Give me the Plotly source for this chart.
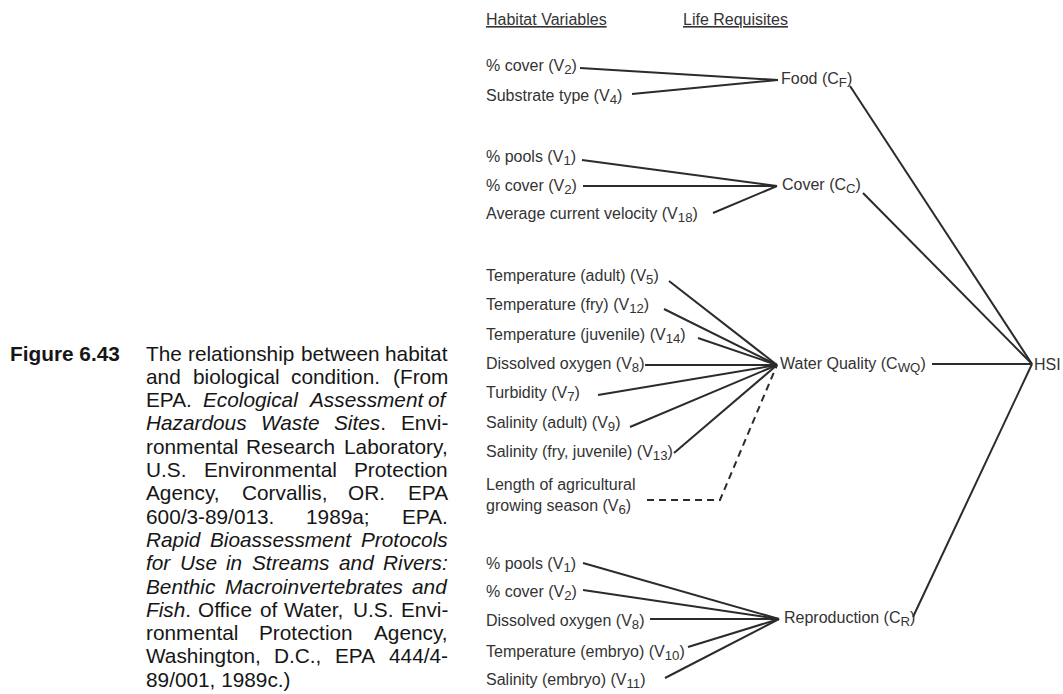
import re
import plotly.graph_objects as go

# ---------------- data ----------------
habitat_header = "Habitat Variables"
requisite_header = "Life Requisites"
index_label = "HSI"

food_vars = ["% cover (V|2)", "Substrate type (V|4)"]
cover_vars = ["% pools (V|1)", "% cover (V|2)", "Average current velocity (V|18)"]
water_vars = ["Temperature (adult) (V|5)", "Temperature (fry) (V|12)",
              "Temperature (juvenile) (V|14)", "Dissolved oxygen (V|8)",
              "Turbidity (V|7)", "Salinity (adult) (V|9)",
              "Salinity (fry, juvenile) (V|13)"]
water_dashed_var = "Length of agricultural<br>growing season (V|6)"
repro_vars = ["% pools (V|1)", "% cover (V|2)", "Dissolved oxygen (V|8)",
              "Temperature (embryo) (V|10)", "Salinity (embryo) (V|11)"]
requisites = ["Food (C|F)", "Cover (C|C)", "Water Quality (C|WQ)", "Reproduction (C|R)"]

figure_label = "Figure 6.43"
caption_lines = [
    "The relationship between habitat",
    "and biological condition. (From",
    "EPA. <i>Ecological Assessment of</i>",
    "<i>Hazardous Waste Sites</i>. Envi-",
    "ronmental Research Laboratory,",
    "U.S. Environmental Protection",
    "Agency, Corvallis, OR. EPA",
    "600/3-89/013. 1989a; EPA.",
    "<i>Rapid Bioassessment Protocols</i>",
    "<i>for Use in Streams and Rivers:</i>",
    "<i>Benthic Macroinvertebrates and</i>",
    "<i>Fish</i>. Office of Water, U.S. Envi-",
    "ronmental Protection Agency,",
    "Washington, D.C., EPA 444/4-",
    "89/001, 1989c.)",
]

# ---------------- layout (pixel space) ----------------
W, H = 1063, 694
FONT = "Liberation Sans, Arial, Helvetica, sans-serif"
TXT = "#333333"
LINE = "#2b2b2b"
FS = 16
CAP_FS = 20.8

label_x = 486
food_y = [67, 97]
food_edge = [(580, 68), (632, 94)]
cover_y = [158, 187, 215]
cover_edge = [(582, 160), (583, 186), (713, 213)]
water_y = [277, 306, 336, 365, 394, 424, 453]
water_edge = [(669, 281), (664, 309), (698, 338), (645, 365), (598, 395), (630, 427), (674, 453)]
dashed_label_y = 496
dashed_path = [(647, 500), (720, 500)]
repro_y = [565, 593, 622, 653, 681]
repro_edge = [(583, 563), (583, 590), (650, 619), (688, 647), (665, 678)]

req_nodes = [(778, 80), (777, 186), (777, 365), (779, 619)]
req_label_x = [781, 782, 780, 784]
req_edge = [(850, 86), (863, 193), (932, 364), (913, 617)]
hsi_node = (1032, 364)

cap_left, cap_right, cap_y0, cap_dy = 146, 448, 353, 23.3
fig_label_x = 10

# Arial / Helvetica advance widths (per 1000 em)
AW = {' ': 278, '%': 889, '(': 333, ')': 333, ',': 278, '-': 333, '.': 278, '/': 278,
      ':': 278, ';': 278,
      'A': 667, 'B': 667, 'C': 722, 'D': 722, 'E': 667, 'F': 611, 'G': 778, 'H': 722,
      'I': 278, 'J': 500, 'K': 667, 'L': 556, 'M': 833, 'N': 722, 'O': 778, 'P': 667,
      'Q': 778, 'R': 722, 'S': 667, 'T': 611, 'U': 722, 'V': 667, 'W': 944, 'X': 667,
      'Y': 667, 'Z': 611,
      'a': 556, 'b': 556, 'c': 500, 'd': 556, 'e': 556, 'f': 278, 'g': 556, 'h': 556,
      'i': 222, 'j': 222, 'k': 500, 'l': 222, 'm': 833, 'n': 556, 'o': 556, 'p': 556,
      'q': 556, 'r': 333, 's': 500, 't': 278, 'u': 556, 'v': 500, 'w': 722, 'x': 500,
      'y': 500, 'z': 500}


def text_width(s, fs):
    plain = re.sub(r'<[^>]+>', '', s)
    return sum(AW.get(c, 556) for c in plain) * fs / 1000.0


def split_words(line):
    words, ital = [], False
    for w in line.split(' '):
        prefix = '<i>' if ital else ''
        for m in re.finditer(r'</?i>', w):
            ital = (m.group() == '<i>')
        suffix = '</i>' if ital else ''
        words.append((prefix + w + suffix).replace('<i></i>', ''))
    return words


def with_sub(s):
    # "Name (V|2)" -> "Name (V<sub>2</sub>)" with a slightly larger subscript
    return re.sub(r'\|([^)]+)\)',
                  r'<sub><span style="font-size:118%">\1</span></sub>)', s)


fig = go.Figure()
annotations = []


def label(x, y, text, size=FS, color=TXT, anchor='left'):
    annotations.append(dict(x=x, y=y, xref='x', yref='y', text=text, showarrow=False,
                            xanchor=anchor, yanchor='middle', borderpad=0, borderwidth=0,
                            font=dict(family=FONT, size=size, color=color), align='left'))


solid_x, solid_y = [], []


def seg(p, q):
    solid_x.extend([p[0], q[0], None])
    solid_y.extend([p[1], q[1], None])


# headers
label(label_x, 19, "<u>" + habitat_header + "</u>")
label(683, 19, "<u>" + requisite_header + "</u>")

groups = [
    (food_vars, food_y, food_edge),
    (cover_vars, cover_y, cover_edge),
    (water_vars, water_y, water_edge),
    (repro_vars, repro_y, repro_edge),
]
for gi, (names, ys, edges) in enumerate(groups):
    node = req_nodes[gi]
    for name, yy, e in zip(names, ys, edges):
        label(label_x, yy, with_sub(name))
        seg(e, node)
    label(req_label_x[gi], node[1], with_sub(requisites[gi]))
    seg(req_edge[gi], hsi_node)

label(label_x, dashed_label_y, with_sub(water_dashed_var))
label(hsi_node[0] + 2, hsi_node[1], index_label)

dash_x = [p[0] for p in dashed_path] + [req_nodes[2][0]]
dash_y = [p[1] for p in dashed_path] + [req_nodes[2][1]]

fig.add_trace(go.Scatter(x=solid_x, y=solid_y, mode='lines',
                         line=dict(color=LINE, width=2), hoverinfo='skip', showlegend=False))
fig.add_trace(go.Scatter(x=dash_x, y=dash_y, mode='lines',
                         line=dict(color=LINE, width=2, dash='7px,5px'),
                         hoverinfo='skip', showlegend=False))

# caption
CAP_COLOR = "#161616"
label(fig_label_x, cap_y0, "<b>" + figure_label + "</b>", size=CAP_FS, color=CAP_COLOR)
for li, line in enumerate(caption_lines):
    y = cap_y0 + li * cap_dy
    words = split_words(line)
    if li == len(caption_lines) - 1:
        label(cap_left, y, line, size=CAP_FS, color=CAP_COLOR)
        continue
    widths = [text_width(w, CAP_FS) for w in words]
    gap = (cap_right - cap_left - sum(widths)) / max(len(words) - 1, 1)
    x = cap_left
    for k, (w, ww) in enumerate(zip(words, widths)):
        if k == len(words) - 1:
            label(cap_right, y, w, size=CAP_FS, color=CAP_COLOR, anchor='right')
        else:
            label(x, y, w, size=CAP_FS, color=CAP_COLOR)
        x += ww + gap

fig.update_layout(
    width=W, height=H, margin=dict(l=0, r=0, t=0, b=0),
    paper_bgcolor='white', plot_bgcolor='white',
    xaxis=dict(range=[0, W], visible=False, fixedrange=True),
    yaxis=dict(range=[H, 0], visible=False, fixedrange=True),
    annotations=annotations, showlegend=False,
)

# remove the default page margin so that the figure fills the window exactly
fig.write_html(
    "out.html",
    config={"displayModeBar": False},
    post_script=("document.body.style.margin='0px';"
                 "document.documentElement.style.overflow='hidden';"
                 "document.body.style.overflow='hidden';"),
)
